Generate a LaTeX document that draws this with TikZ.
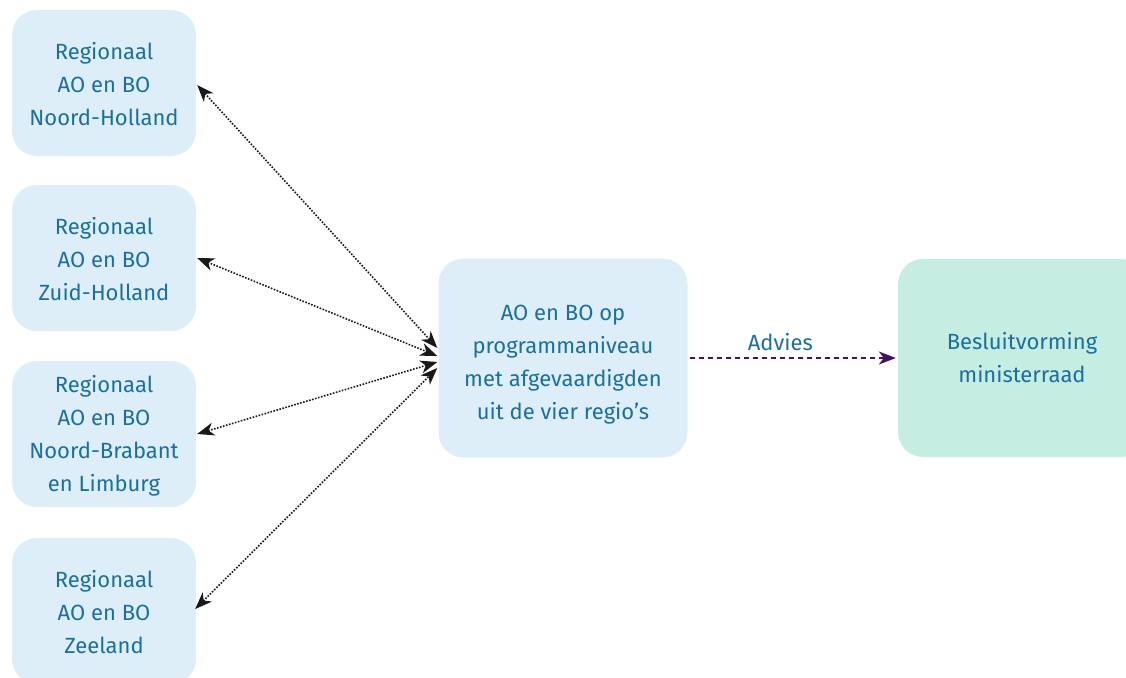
\documentclass[tikz,border=0pt]{standalone}
\usepackage{fontspec}
\setmainfont{Fira Sans}
\usetikzlibrary{arrows.meta}
\definecolor{boxblue}{HTML}{DDEEF8}
\definecolor{boxgreen}{HTML}{C6EDE1}
\definecolor{txtblue}{HTML}{1A6FA0}
\definecolor{advpurple}{HTML}{42145F}
\newcommand{\topstrut}[1]{\rule{0pt}{#1}}
\tikzset{
  regbox/.style={rectangle, rounded corners=25pt, fill=boxblue, minimum width=184pt, minimum height=146pt, align=center, text=txtblue, font=\fontsize{22pt}{33pt}\selectfont, inner sep=0pt},
  midbox/.style={regbox, minimum width=249pt, minimum height=199pt},
  endbox/.style={regbox, fill=boxgreen, minimum width=248pt, minimum height=198pt},
  linkarrow/.style={dash pattern=on 1.6pt off 1.5pt, line width=1.6pt, color=black!90, {Stealth[length=17pt,width=13pt,inset=5pt]}-{Stealth[length=17pt,width=13pt,inset=5pt]}},
  advarrow/.style={dash pattern=on 5pt off 4pt, line width=1.4pt, color=advpurple, -{Stealth[length=17pt,width=13pt,inset=5pt]}},
  lbl/.style={text=txtblue, font=\fontsize{22pt}{33pt}\selectfont}
}
\begin{document}
\begin{tikzpicture}[x=1pt,y=-1pt]
\useasboundingbox (0,0) rectangle (1126,677);
\clip (0,0) rectangle (1126,677);
\node[regbox] (b1) at (104,83) {\topstrut{20pt}Regionaal\\AO en BO\\Noord-Holland};
\node[regbox] (b2) at (104,258) {\topstrut{20pt}Regionaal\\AO en BO\\Zuid-Holland};
\node[regbox] (b3) at (104,434) {\topstrut{20pt}Regionaal\\AO en BO\\Noord-Brabant\\en Limburg};
\node[regbox] (b4) at (104,611) {\topstrut{20pt}Regionaal\\AO en BO\\Zeeland};
\node[midbox] (m) at (563,358) {\topstrut{28pt}AO en BO op\\programmaniveau\\met afgevaardigden\\uit de vier regio’s};
\node[endbox] (e) at (1022,358) {Besluitvorming\\ministerraad};
\coordinate (t1) at ([xshift=-1pt,yshift=10pt]m.west);
\coordinate (t2) at ([xshift=-1pt,yshift=2pt]m.west);
\coordinate (t3) at ([xshift=-1pt,yshift=-4pt]m.west);
\coordinate (t4) at ([xshift=-1pt,yshift=-10pt]m.west);
\draw[linkarrow] ([xshift=1pt,yshift=-2pt]b1.east) -- (t1);
\draw[linkarrow] ([xshift=1pt]b2.east) -- (t2);
\draw[linkarrow] ([xshift=1pt]b3.east) -- (t3);
\draw[linkarrow] ([xshift=-1pt,yshift=2pt]b4.east) -- (t4);
\draw[advarrow] ([xshift=2pt]m.east) -- node[lbl, pos=0.44, above=3pt] {Advies} ([xshift=-2pt]e.west);
\end{tikzpicture}
\end{document}
